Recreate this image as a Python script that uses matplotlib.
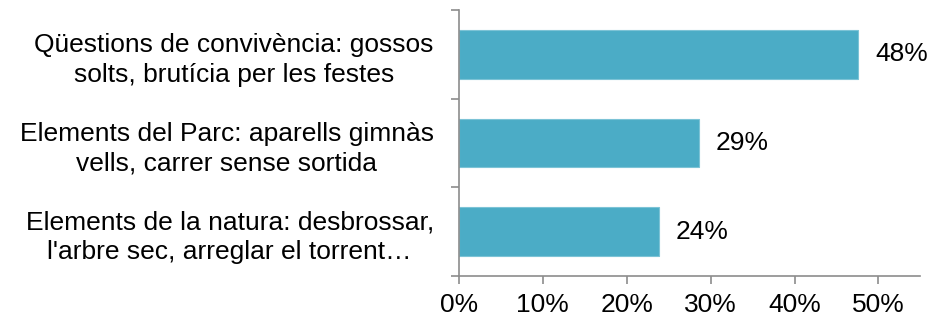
import matplotlib.pyplot as plt
import numpy as np

plt.rcParams["font.family"] = ["Liberation Sans", "DejaVu Sans"]

# categories (top to bottom) and share of answers, in percent
categories = [
    "Qüestions de convivència: gossos\nsolts, brutícia per les festes",
    "Elements del Parc: aparells gimnàs\nvells, carrer sense sortida",
    "Elements de la natura: desbrossar,\nl'arbre sec, arreglar el torrent…",
]
shares = [47.6, 28.6, 23.8]
x_ticks = [0, 10, 20, 30, 40, 50]

bar_color = "#4BACC6"
axis_color = "#8C8C8C"
fs = 19

fig = plt.figure(figsize=(9.44, 3.21), dpi=100)
ax = fig.add_axes([0.486, 0.14, 0.489, 0.829])

y = np.arange(len(categories))
bars = ax.barh(y, shares, height=0.55, color=bar_color,
               edgecolor="#7CC3D6", linewidth=0.8)

for rect, v in zip(bars, shares):
    ax.annotate(f"{v:.0f}%", (rect.get_width(), rect.get_y() + rect.get_height() / 2),
                xytext=(12, 0), textcoords="offset points",
                ha="left", va="center", fontsize=fs)

ax.set_xlim(0, 55)
ax.set_ylim(len(categories) - 0.5, -0.5)

ax.set_xticks(x_ticks)
ax.set_xticklabels([f"{t}%" for t in x_ticks])

# category boundaries carry the tick marks, labels sit on the centres
ax.set_yticks(np.arange(-0.5, len(categories)), labels=[])
ax.set_yticks(y, labels=categories, minor=True)
ax.tick_params(axis="y", which="minor", length=0, pad=18, labelsize=fs)
ax.tick_params(axis="y", which="major", length=6, width=1.2, color=axis_color)
ax.tick_params(axis="x", length=6, width=1.2, color=axis_color, labelsize=fs, pad=6)
for lbl in ax.get_yticklabels(minor=True):
    lbl.set_multialignment("center")
    lbl.set_linespacing(1.3)

for side in ["top", "right"]:
    ax.spines[side].set_visible(False)
for side in ["left", "bottom"]:
    ax.spines[side].set_color(axis_color)
    ax.spines[side].set_linewidth(1.2)

fig.savefig("out.png", dpi=100)
